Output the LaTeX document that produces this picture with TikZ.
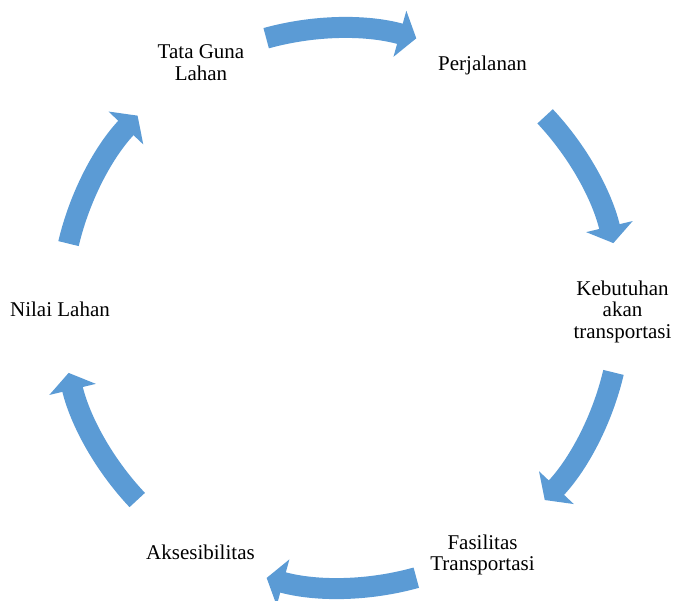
\documentclass[tikz,border=0pt]{standalone}
\usepackage{fontspec}
\setmainfont{Liberation Serif}
\usetikzlibrary{arrows.meta}
\usetikzlibrary{calc}
\definecolor{biru}{RGB}{91,155,213}

\begin{document}
\begin{tikzpicture}[x=1pt,y=1pt,
		teks/.style={align=center,inner sep=0pt,font=\fontsize{21}{21.7}\selectfont},
		panah/.style={draw=biru,line width=21pt,-{Triangle[width=47pt,length=17pt]}}]
		\useasboundingbox (-341,-292) rectangle (333,308);
		\coordinate (pusat) at (0,0);
		\node (tataguna) [teks] at (-140,245) {Tata Guna\\Lahan};
		\node (perjalanan) [teks] at (141.5,242.2) {Perjalanan};
		\node (kebutuhan) [teks] at (281.5,-3.9) {Kebutuhan\\akan\\transportasi};
		\node (fasilitas) [teks] at (141.5,-247) {Fasilitas\\Transportasi};
		\node (aksesibilitas) [teks] at (-140.5,-244) {Aksesibilitas};
		\node (nilailahan) [teks] at (-281,-1.5) {Nilai Lahan};
		\draw [panah] ($(pusat)+(105.5:280)$) arc[start angle=105.5,end angle=74.4,radius=280];
		\draw [panah] ($(pusat)+(43.2:280)$) arc[start angle=43.2,end angle=13.4,radius=280];
		\draw [panah] ($(pusat)+(-13.3:280)$) arc[start angle=-13.3,end angle=-43.3,radius=280];
		\draw [panah] ($(pusat)+(-74.4:280)$) arc[start angle=-74.4,end angle=-105.4,radius=280];
		\draw [panah] ($(pusat)+(-136.7:280)$) arc[start angle=-136.7,end angle=-166.6,radius=280];
		\draw [panah] ($(pusat)+(166.7:280)$) arc[start angle=166.7,end angle=136.6,radius=280];
	\end{tikzpicture}
\end{document}
